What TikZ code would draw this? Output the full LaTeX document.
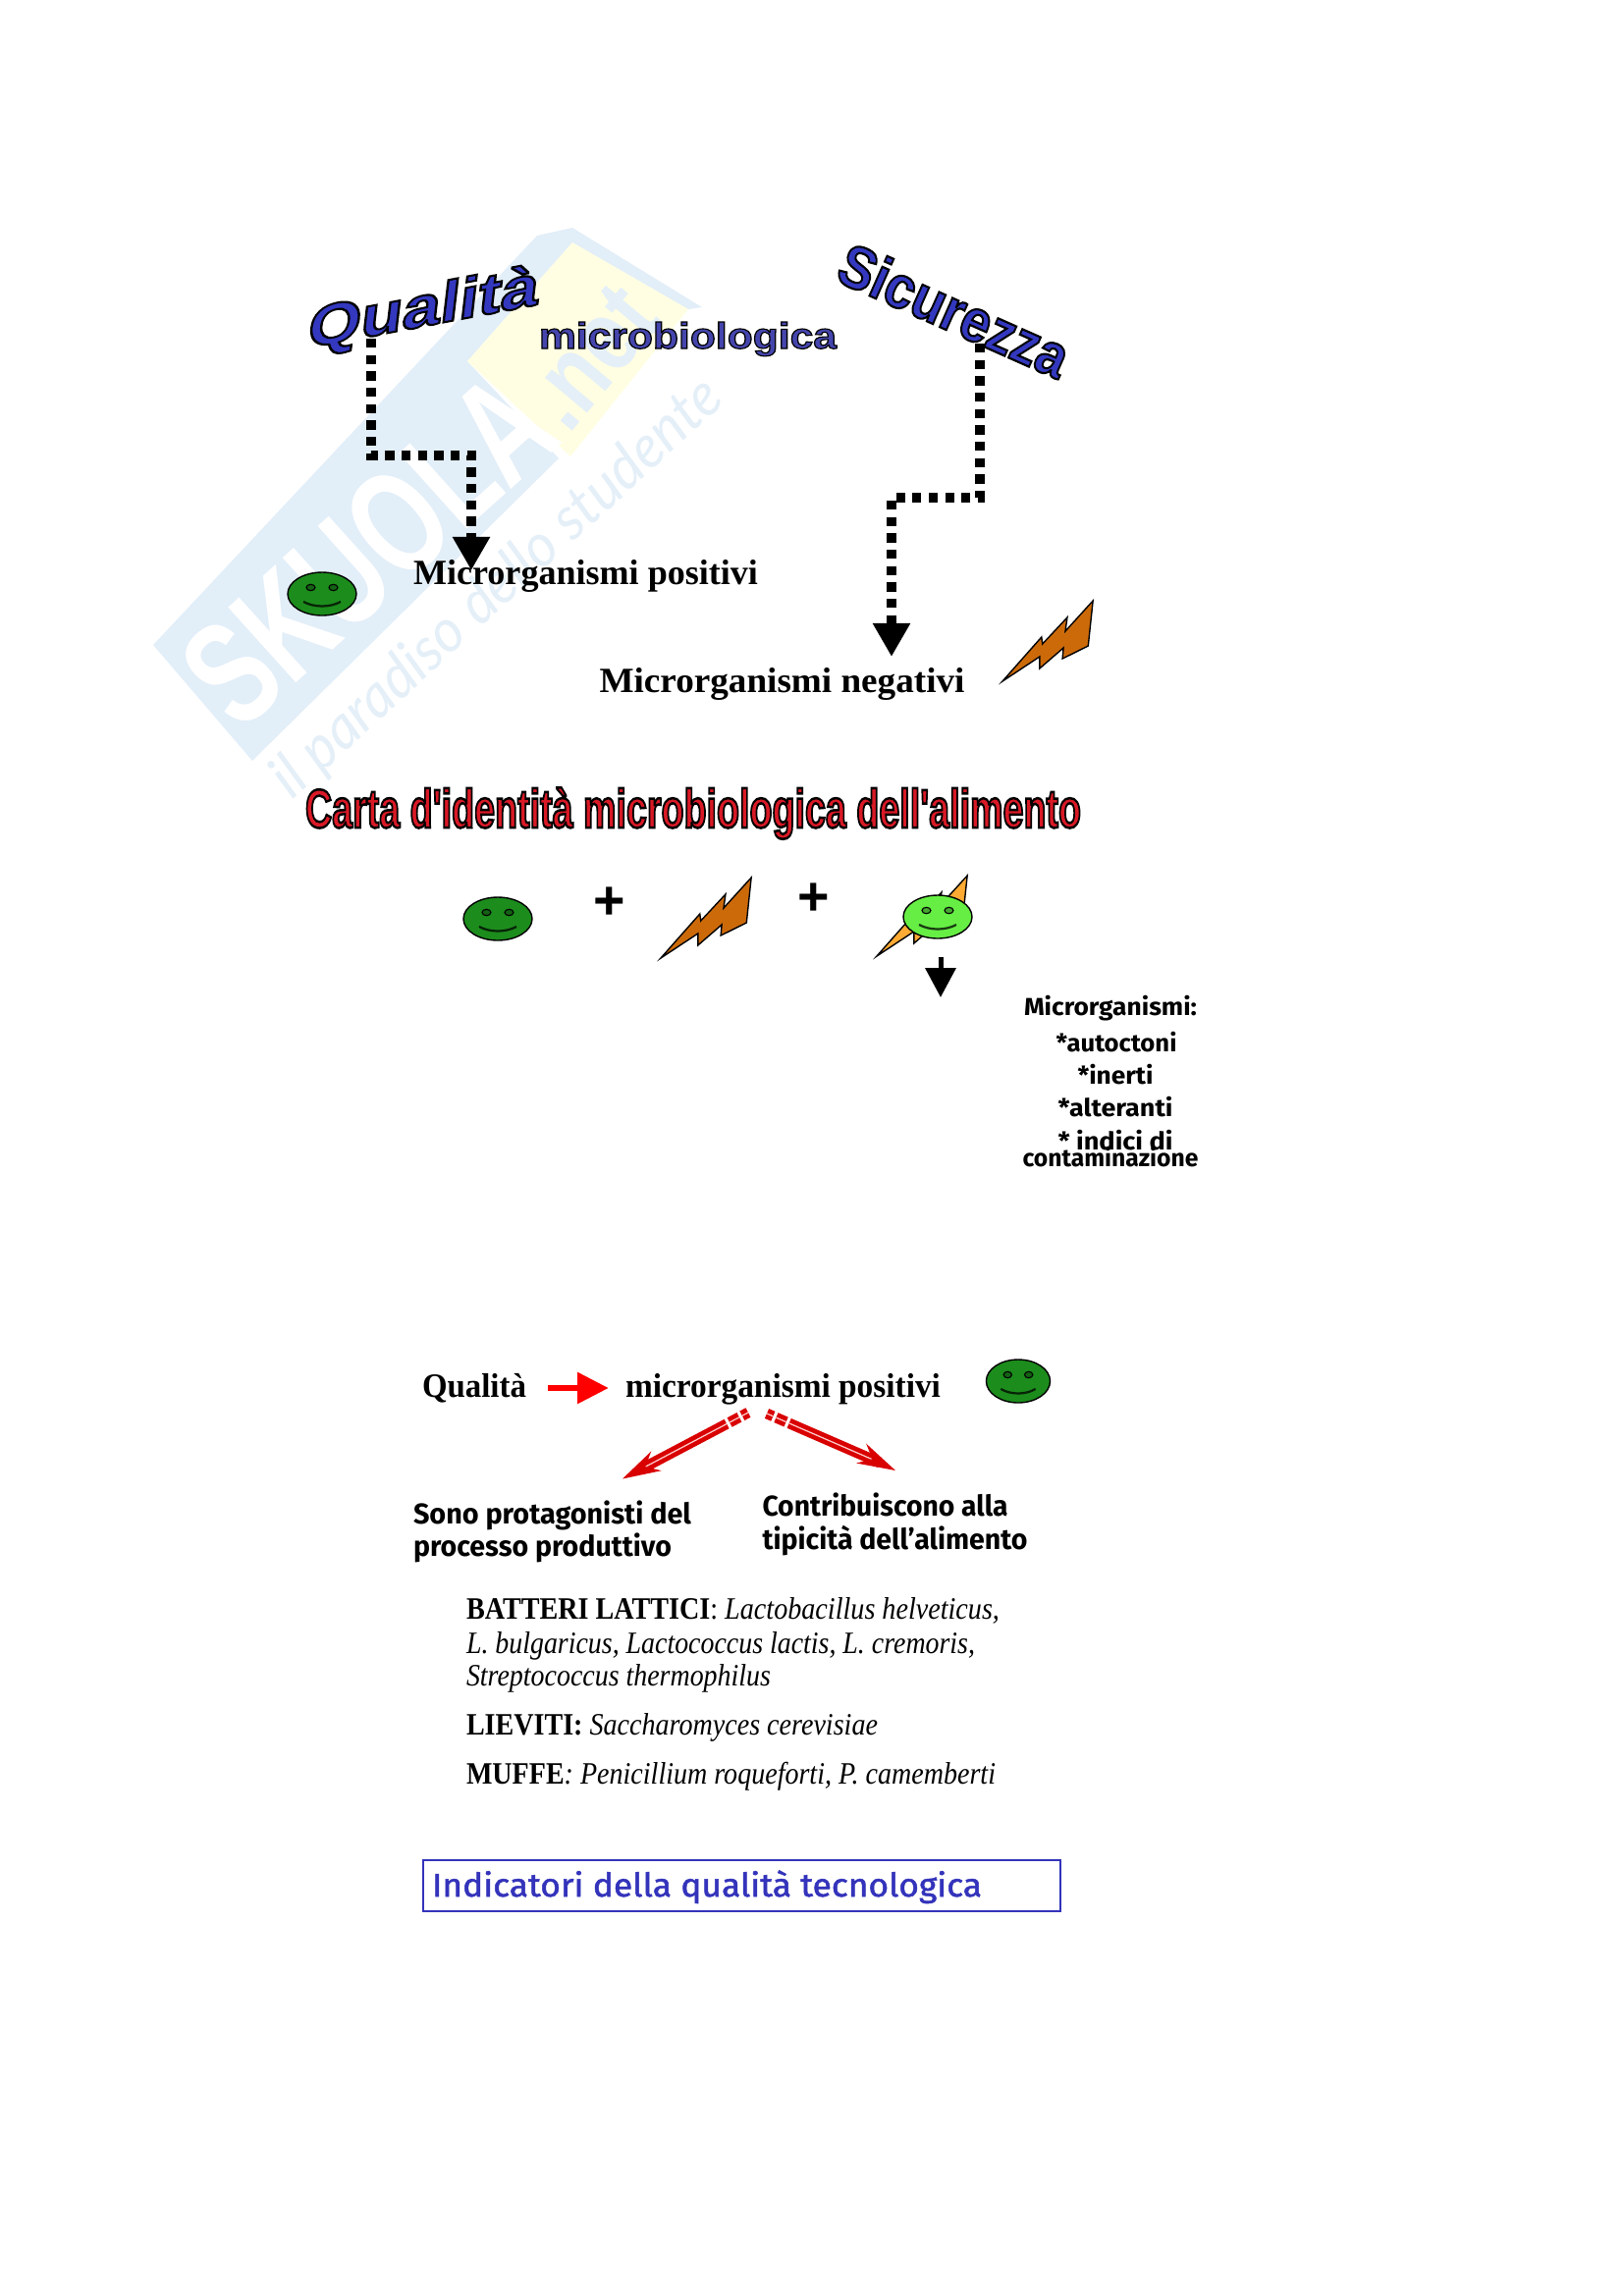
\documentclass[tikz,border=0pt]{standalone}
\usepackage{graphicx}
\usepackage{fontspec}
\usetikzlibrary{arrows.meta,shapes.geometric}
\setmainfont{Liberation Serif}
\newfontfamily\wamain[Extension=.ttf,UprightFont=LiberationSans-Bold,FakeBold=3.5]{LiberationSans-Bold}
\newfontfamily\waup[Extension=.ttf,UprightFont=LiberationSans-Bold,FakeBold=3]{LiberationSans-Bold}
\newfontfamily\watitle[Extension=.ttf,UprightFont=LiberationSans-Bold,FakeBold=4.5]{LiberationSans-Bold}
\newfontfamily\comic{Fira Sans}
\newfontfamily\comicm[FakeBold=1.5]{Fira Sans}
\newfontfamily\wm{Liberation Sans}
\newfontfamily\wmt{Lato}
\definecolor{wmblue}{HTML}{E2EEF8}
\definecolor{wmtext}{HTML}{E4EFF8}
\definecolor{wmyellow}{HTML}{FFFEE3}
\definecolor{darkgreen}{HTML}{1C8C1C}
\definecolor{lightgreen}{HTML}{66EE44}
\definecolor{boltdark}{HTML}{CC6A0A}
\definecolor{boltlight}{HTML}{FFAA33}
\definecolor{indigo}{HTML}{3333BB}
\newsavebox\fitbox
\newcommand\fitx[2]{\sbox\fitbox{#2}\edef\fitw{\the\wd\fitbox}\pgfmathsetmacro\fitr{#1*0.36/\fitw}\scalebox{\fitr}[1]{\usebox\fitbox}}
\newcommand\wa[2]{\special{pdf:bc [#1] [0 0 0]}#2\special{pdf:ec}}
\newcommand\smiley[4][1]{\begin{scope}[shift={(#2,#3)},xscale=#1]
\draw[fill=#4,line width=0.5pt] (0,0) ellipse [x radius=35,y radius=22];
\draw[line width=0.4pt,fill=#4!70!black] (-11.5,-6.5) ellipse [x radius=4.5,y radius=3.2] (11.5,-6.5) ellipse [x radius=4.5,y radius=3.2];
\draw[line width=0.8pt,black!75!#4] (-19,8) .. controls (-8,14) and (8,14) .. (19,8);
\end{scope}}
\newcommand\bolt[3]{\draw[fill=#3,line width=0.5pt,line join=miter,shift={(#1,#2)},xscale=0.97] (0,0) -- (41,-45) -- (42,-38) -- (68,-65) -- (66,-51) -- (95,-82) -- (90,-36) -- (63,-23) -- (64,-34) -- (39,-13) -- (39,-25) -- cycle;}
\tikzset{
 lbl/.style={inner sep=0pt,outer sep=0pt,anchor=base west},
 ctr/.style={inner sep=0pt,outer sep=0pt,anchor=base},
 dotflow/.style={line width=3.5pt,dash pattern=on 3.3pt off 2.7pt,draw=black,-{Triangle[length=12.3pt,width=13pt]}},
 redshaft/.style={draw=red!85!black,line width=1.7pt,double=red!20!white,double distance=0.45pt,dash pattern=on 2.5pt off 1.2pt on 4pt off 1.2pt on 200pt},
 redhead/.style={draw=red!85!black,line width=0.6pt,-{Stealth[length=14pt,width=8pt,fill=red!85!black]}},
}
\begin{document}
\begin{tikzpicture}[x=0.36pt,y=-0.36pt]
\useasboundingbox (0,0) rectangle (1653,2339);
% watermark
\fill[wmblue] (156,657) -- (547,240) -- (583,232) -- (715,313) -- (701,315) -- (583,247) -- (476,368) -- (569,467) -- (257,775) -- cycle;
\fill[wmyellow] (476,368) -- (583,247) -- (701,315) -- (581,465) -- cycle;
\node[inner sep=0pt,rotate=42,text=white] (wmskuola) at (375,560) {\fontsize{54}{54}\selectfont\fitx{445}{\wm\bfseries SKUOLA}};
\node[inner sep=0pt,rotate=50,text=wmtext] (wmnet) at (602,364) {\fontsize{38}{38}\selectfont\fitx{150}{\wm\bfseries .net}};
\node[inner sep=0pt,rotate=42.6,text=wmtext] (wmslogan) at (507,600) {\fontsize{22}{22}\selectfont\fitx{600}{\wmt\itshape il paradiso dello studente}};
% wordart
\node[lbl,yslant=0.19,xslant=0.12] (qual) at (312,355) {\fontsize{21}{21}\selectfont\fitx{235}{\wamain\wa{0.2 0.22 0.75}{Qualità}}};
\node[lbl] (micro) at (549,355) {\fontsize{13.4}{14}\selectfont\fitx{303}{\waup\wa{0.27 0.27 0.68}{microbiologica}}};
\node[lbl,rotate=-24] (sicur) at (849,285) {\fontsize{22}{22}\selectfont\fitx{250}{\wamain\wa{0.2 0.22 0.75}{Sicurezza}}};
\node[lbl] (carta) at (311,843) {\fontsize{20}{20}\selectfont\fitx{790}{\watitle\wa{0.85 0.1 0.15}{Carta d'identità microbiologica dell'alimento}}};
% flow arrows top
\coordinate (qa) at (378,345); \coordinate (qb) at (378,464); \coordinate (qc) at (480,464); \coordinate (qd) at (480,581);
\coordinate (sa) at (998,350); \coordinate (sb) at (998,507); \coordinate (sc) at (908,507); \coordinate (sd) at (908,669);
\draw[dotflow] (qa) -- (qb) -- (qc) -- (qd);
\draw[dotflow] (sa) -- (sb) -- (sc) -- (sd);
\node[lbl] (pos) at (421,595) {\fontsize{13}{14}\selectfont\fitx{351}{\bfseries Microrganismi positivi}};
\node[lbl] (neg) at (610.5,705) {\fontsize{13}{14}\selectfont\fitx{372}{\bfseries Microrganismi negativi}};
\smiley{328}{605}{darkgreen}
\bolt{1021}{694}{boltdark}
% identity row
\smiley{507}{936}{darkgreen}
\node[inner sep=0pt] (plusa) at (621,920) {\wm\bfseries\fontsize{20}{20}\selectfont +};
\bolt{673}{976}{boltdark}
\node[inner sep=0pt] (plusb) at (829,916) {\wm\bfseries\fontsize{20}{20}\selectfont +};
\bolt{893}{974}{boltlight}
\smiley{955}{934}{lightgreen}
\coordinate (ara) at (958,975); \coordinate (arb) at (958,1016);
\draw[line width=1.8pt,-{Triangle[length=10.8pt,width=11pt]}] (ara) -- (arb);
\begin{scope}[every node/.style={ctr}]
\node (la) at (1131,1034) {\comic\bfseries\fontsize{9}{10}\selectfont\fitx{176}{Microrganismi:}};
\node (lb) at (1137,1071) {\comic\bfseries\fontsize{9}{10}\selectfont\fitx{123}{*autoctoni}};
\node (lc) at (1136,1104) {\comic\bfseries\fontsize{9}{10}\selectfont\fitx{77}{*inerti}};
\node (ld) at (1136,1137) {\comic\bfseries\fontsize{9}{10}\selectfont\fitx{117}{*alteranti}};
\node (le) at (1136,1171) {\comic\bfseries\fontsize{9}{10}\selectfont\fitx{117}{* indici di}};
\node (lf) at (1131,1188) {\comic\bfseries\fontsize{9}{10}\selectfont\fitx{179}{contaminazione}};
\end{scope}
% bottom
\node[lbl] (qb1) at (430,1423) {\fontsize{12.5}{14}\selectfont\fitx{106}{\bfseries Qualità}};
\node[lbl] (mp) at (637,1423) {\fontsize{12.5}{14}\selectfont\fitx{321}{\bfseries microrganismi positivi}};
\coordinate (ra) at (558,1414); \coordinate (rb) at (620,1414);
\draw[draw=red,line width=2.5pt,-{Triangle[length=11.5pt,width=11pt,fill=red]}] (ra) -- (rb);
\smiley[0.93]{1037}{1407}{darkgreen}
\coordinate (la1) at (762,1439); \coordinate (la2) at (652,1497); \coordinate (la3) at (634,1506.5);
\coordinate (ra1) at (781,1440); \coordinate (ra2) at (896,1490); \coordinate (ra3) at (912,1498);
\draw[redshaft] (la1) -- (la2);
\draw[redshaft] (ra1) -- (ra2);
\draw[redhead] (la2) -- (la3);
\draw[redhead] (ra2) -- (ra3);
\node[lbl] (t1) at (421,1552) {\comic\bfseries\fontsize{10.5}{12}\selectfont\fitx{283}{Sono protagonisti del}};
\node[lbl] (t2) at (421,1585) {\comic\bfseries\fontsize{10.5}{12}\selectfont\fitx{263}{processo produttivo}};
\node[lbl] (t3) at (776.5,1544) {\comic\bfseries\fontsize{10.5}{12}\selectfont\fitx{250}{Contribuiscono alla}};
\node[lbl] (t4) at (776.5,1578) {\comic\bfseries\fontsize{10.5}{12}\selectfont\fitx{270}{tipicità dell’alimento}};
\node[lbl] (b1) at (475,1649) {\fontsize{11.4}{14}\selectfont\fitx{543}{\textbf{BATTERI LATTICI}: \textit{Lactobacillus helveticus,}}};
\node[lbl] (b2) at (475,1684) {\fontsize{11.4}{14}\selectfont\fitx{518}{\textit{L. bulgaricus, Lactococcus lactis, L. cremoris,}}};
\node[lbl] (b3) at (475,1717) {\fontsize{11.4}{14}\selectfont\fitx{310}{\textit{Streptococcus thermophilus}}};
\node[lbl] (b4) at (475,1767) {\fontsize{11.4}{14}\selectfont\fitx{419}{\textbf{LIEVITI:} \textit{Saccharomyces cerevisiae}}};
\node[lbl] (b5) at (475,1817) {\fontsize{11.4}{14}\selectfont\fitx{539}{\textbf{MUFFE}\textit{: Penicillium roqueforti, P. camemberti}}};
\node[draw=indigo,line width=0.7pt,minimum width=233.6pt,minimum height=19pt,inner sep=0pt] (box) at (755.5,1921) {};
\node[lbl,text=indigo] (boxt) at (440,1932) {\comicm\fontsize{12}{14}\selectfont\fitx{560}{Indicatori della qualità tecnologica}};
\end{tikzpicture}
\end{document}
